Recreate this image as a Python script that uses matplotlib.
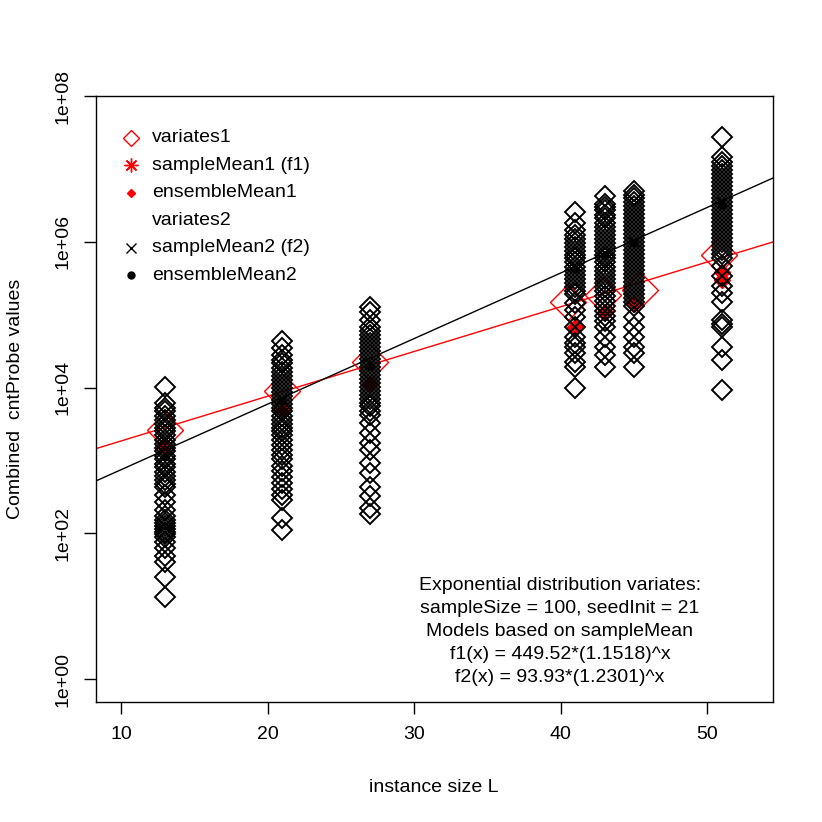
import numpy as np
import matplotlib.pyplot as plt

plt.rcParams['font.family'] = ['Liberation Sans', 'DejaVu Sans']

# instance sizes L
L_values = [13, 21, 27, 41, 43, 45, 51]

# variates2 (black diamonds), one list per L
v13 = [1.03e4, 6.2e3, 5.3e3, 4.7e3, 4.1e3, 3.6e3, 3.2e3, 2.8e3, 2.5e3, 2.2e3, 1.93e3,
       1.7e3, 1.5e3, 1.33e3, 1.16e3, 1.03e3, 900, 800, 700, 620, 545, 480, 425,
       340, 272, 211, 174, 150, 140, 124, 115, 105, 97, 90, 77, 62, 49, 40, 25, 13.5]
v21 = [4.3e4, 3.5e4, 2.8e4, 2.4e4, 2.14e4, 1.87e4, 1.65e4, 1.46e4, 1.28e4, 1.13e4,
       9.96e3, 8.8e3, 7.75e3, 6.8e3, 6.0e3, 5.3e3, 4.7e3, 4.1e3, 3.6e3, 3.2e3, 2.8e3,
       2.5e3, 2.2e3, 1.93e3, 1.65e3, 1.4e3, 1.2e3, 1.03e3, 850, 725, 600, 495, 410,
       340, 290, 164, 112]
v27 = [1.29e5, 1.07e5, 8.5e4, 6.8e4, 6.0e4, 5.3e4, 4.7e4, 4.1e4, 3.6e4, 3.2e4, 2.8e4,
       2.5e4, 2.2e4, 1.94e4, 1.7e4, 1.5e4, 1.32e4, 1.17e4, 1.03e4, 9.1e3, 8.0e3, 7.0e3,
       6.2e3, 5.5e3, 4.8e3, 4.25e3, 3.3e3, 2.4e3, 1.75e3, 1.4e3, 930, 680, 425, 320,
       225, 186]
v41 = [2.6e6, 1.83e6, 1.47e6, 1.25e6, 1.1e6, 9.7e5, 8.6e5, 7.5e5, 6.65e5, 5.9e5, 5.2e5,
       4.55e5, 4.0e5, 3.5e5, 3.1e5, 2.75e5, 2.4e5, 2.1e5, 1.9e5, 1.46e5, 1.17e5, 9.3e4,
       6.8e4, 5.0e4, 4.1e4, 3.6e4, 3.0e4, 2.26e4, 1.94e4, 1.0e4]
v43 = [4.2e6, 3.3e6, 3.0e6, 2.7e6, 2.35e6, 2.1e6, 1.83e6, 1.6e6, 1.42e6, 1.25e6, 1.1e6,
       9.7e5, 8.6e5, 7.5e5, 6.65e5, 5.9e5, 5.2e5, 4.55e5, 4.0e5, 3.5e5, 3.1e5, 2.75e5,
       2.4e5, 2.1e5, 1.83e5, 1.56e5, 1.33e5, 1.13e5, 9.7e4, 8.3e4, 6.8e4, 5.0e4, 3.6e4,
       2.8e4, 1.94e4]
v45 = [4.9e6, 4.4e6, 4.0e6, 3.55e6, 3.1e6, 2.76e6, 2.43e6, 2.14e6, 1.89e6, 1.66e6,
       1.47e6, 1.29e6, 1.14e6, 1.0e6, 8.8e5, 7.8e5, 6.9e5, 6.0e5, 5.3e5, 4.7e5, 4.14e5,
       3.65e5, 3.2e5, 2.84e5, 2.5e5, 2.2e5, 1.94e5, 1.71e5, 1.5e5, 1.33e5, 9.3e4, 6.8e4,
       5.0e4, 3.6e4, 3.0e4, 1.94e4]
v51 = [2.7e7, 1.47e7, 1.26e7, 1.1e7, 9.8e6, 8.6e6, 7.6e6, 6.7e6, 5.9e6, 5.2e6, 4.57e6,
       4.0e6, 3.55e6, 3.1e6, 2.76e6, 2.43e6, 2.14e6, 1.89e6, 1.66e6, 1.47e6, 1.29e6,
       1.14e6, 1.0e6, 8.8e5, 7.8e5, 6.9e5, 6.0e5, 4.7e5, 3.4e5, 2.5e5, 2.0e5, 1.5e5,
       8.5e4, 7.5e4, 6.8e4, 3.6e4, 2.4e4, 9.3e3]
variates2 = [v13, v21, v27, v41, v43, v45, v51]

# large red diamonds (sample means of variates1)
mean1_L = [13, 21, 27, 40.5, 42.9, 45.4, 50.8]
mean1 = [2.63e3, 9.06e3, 2.26e4, 1.51e5, 1.88e5, 2.2e5, 6.65e5]

# ensembleMean1 (red filled)
ens1_L = [13, 21, 27, 41, 43, 45, 51, 51]
ens1 = [1.55e3, 5.0e3, 1.13e4, 6.8e4, 1.07e5, 1.42e5, 3.8e5, 3.0e5]

# sampleMean2 / ensembleMean2 (hidden inside the black columns)
mean2 = [1.2e3, 7.0e3, 2.2e4, 4.6e5, 7.0e5, 1.0e6, 3.5e6]
ens2 = [1.1e3, 6.5e3, 2.0e4, 4.2e5, 6.5e5, 9.5e5, 3.2e6]

# fitted models from the annotation
f1_a, f1_b = 449.52, 1.1518
f2_a, f2_b = 93.93, 1.2301

note_lines = ['Exponential distribution variates:',
              'sampleSize = 100, seedInit = 21',
              'Models based on sampleMean',
              'f1(x) = 449.52*(1.1518)^x',
              'f2(x) = 93.93*(1.2301)^x']

W = 822
fig = plt.figure(figsize=(8.22, 8.22), dpi=100)
ax = fig.add_axes([95.7 / W, 1 - 702 / W, (772.7 - 95.7) / W, (702 - 96) / W])
ax.set_yscale('log')
xlim = (8.27, 54.48)
ax.set_xlim(xlim)
ax.set_ylim(10 ** -0.315, 1e8)

# model lines
xl = np.array(xlim)
ax.plot(xl, f1_a * f1_b ** xl, color='red', lw=1.0, zorder=1)
ax.plot(xl, f2_a * f2_b ** xl, color='black', lw=1.0, zorder=1)

ax.plot(mean1_L, mean1, ls='none', marker='D', ms=18.5, mfc='none', mec='red', mew=1.0, zorder=2)
ax.plot(ens1_L, ens1, ls='none', marker='D', ms=8, color='red', mec='red', zorder=3)
ax.plot(L_values, mean2, ls='none', marker='x', ms=7, color='black', zorder=3)
ax.plot(L_values, ens2, ls='none', marker='o', ms=5, color='black', zorder=3)

for L, vals in zip(L_values, variates2):
    ax.plot([L] * len(vals), vals, ls='none', marker='D', ms=10, mfc='none',
            mec='black', mew=1.4, zorder=4)

# axes styling in the R base-graphics manner
ax.minorticks_off()
ax.set_xticks([10, 20, 30, 40, 50])
ax.set_yticks([1e0, 1e2, 1e4, 1e6, 1e8])
ax.set_yticklabels(['1e+00', '1e+02', '1e+04', '1e+06', '1e+08'], rotation=90, va='center')
ax.tick_params(direction='out', length=8.5, width=1.0, labelsize=14, pad=9)
for s in ax.spines.values():
    s.set_linewidth(1.0)

fig.text(434 / W, 1 - 787 / W, 'instance size L', ha='center', va='center', fontsize=14)
fig.text(16 / W, 1 - 399 / W, 'Combined  cntProbe values', ha='center', va='center',
         rotation=90, fontsize=14)

# legend (no box)
leg_rows = [
    ('variates1', dict(marker='D', ms=8, mfc='none', mec='red', mew=1.0)),
    ('sampleMean1 (f1)', dict(marker=(8, 2, 0), ms=10, color='red', mew=1.0)),
    ('ensembleMean1', dict(marker='D', ms=3.8, color='red')),
    ('variates2', None),
    ('sampleMean2 (f2)', dict(marker='x', ms=7, color='black', mew=1.0)),
    ('ensembleMean2', dict(marker='o', ms=5, color='black')),
]
for i, (lab, style) in enumerate(leg_rows):
    yp = 138 + 27.4 * i
    if style is not None:
        fig.add_artist(plt.Line2D([131 / W], [1 - yp / W], ls='none', **style))
    fig.text(152 / W, 1 - yp / W, lab, ha='left', va='center', fontsize=14)

for i, line in enumerate(note_lines):
    fig.text(560 / W, 1 - (585 + 23 * i) / W, line, ha='center', va='center', fontsize=14)

fig.savefig('out.png', dpi=100)
